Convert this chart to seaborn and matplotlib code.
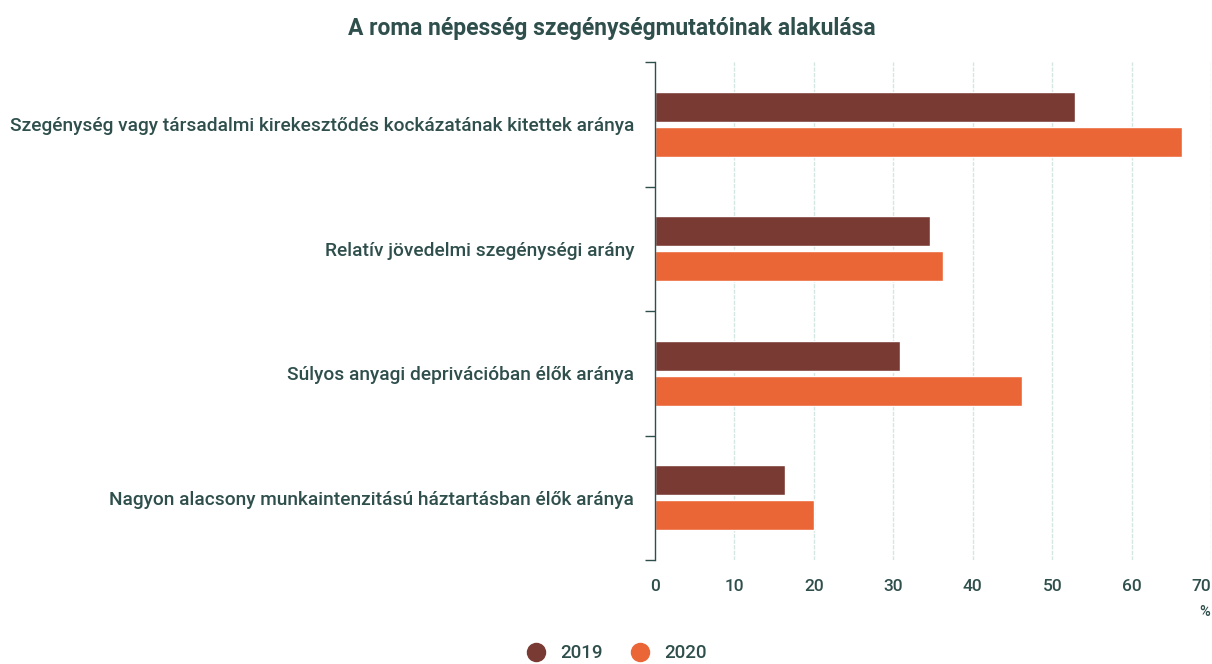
import seaborn as sns
import pandas as pd
import matplotlib.pyplot as plt
from matplotlib.lines import Line2D

categories = [
    'Szegénység vagy társadalmi kirekesztődés kockázatának kitettek aránya',
    'Relatív jövedelmi szegénységi arány',
    'Súlyos anyagi deprivációban élők aránya',
    'Nagyon alacsony munkaintenzitású háztartásban élők aránya',
]
years = ['2019', '2020']
values_2019 = [52.8, 34.6, 30.8, 16.4]
values_2020 = [66.3, 36.3, 46.2, 20.0]

df = pd.DataFrame({
    'kategoria': categories * 2,
    'ev': [years[0]] * 4 + [years[1]] * 4,
    'ertek': values_2019 + values_2020,
})

text_color = '#2f4f4c'
colors = {'2019': '#7a3a34', '2020': '#ea6636'}

sns.set_style('white')
plt.rcParams['font.family'] = ['Roboto', 'DejaVu Sans']
plt.rcParams['font.weight'] = 'medium'

fig = plt.figure(figsize=(12.12, 6.64), dpi=100)
ax = fig.add_axes([0.5404, 0.1566, 0.459, 0.75])

sns.barplot(data=df, y='kategoria', x='ertek', hue='ev', palette=colors,
            orient='h', width=0.56, gap=0.14, ax=ax, legend=False, saturation=1)

ax.set_xlim(0, 70)
ax.set_ylim(3.5, -0.5)
ax.set_xticks(range(0, 71, 10))
ax.set_xlabel('')
ax.set_ylabel('')

# vertical gridlines
for v in range(10, 71, 10):
    ax.axvline(v, color='#d3e6e1', lw=1, ls=(0, (3, 1)), zorder=0)

# category boundary ticks
ax.set_yticks([-0.5, 0.5, 1.5, 2.5, 3.5], minor=True)
ax.tick_params(axis='y', which='minor', left=True, length=7, color=text_color, width=1)
ax.tick_params(axis='y', which='major', left=False, length=0, pad=15, labelsize=13.8, labelcolor=text_color)
ax.tick_params(axis='x', length=0, pad=14, labelsize=12.5, labelcolor=text_color)
# last label sits at the figure edge
ax.get_xticklabels()[-1].set_horizontalalignment('right')

for s in ['top', 'right', 'bottom']:
    ax.spines[s].set_visible(False)
ax.spines['left'].set_color(text_color)
ax.spines['left'].set_linewidth(1)

fig.text(0.998, 0.078, '%', ha='right', va='center', fontsize=10.5, color=text_color)

fig.suptitle('A roma népesség szegénységmutatóinak alakulása', x=0.505, y=0.975,
             fontsize=16.5, fontweight='bold', color=text_color)

handles = [Line2D([], [], marker='o', ls='', markersize=13, color=colors[y]) for y in years]
fig.legend(handles, years, loc='center', bbox_to_anchor=(0.505, 0.016), ncol=2, frameon=False,
           fontsize=13.5, labelcolor=text_color, handletextpad=0.3, columnspacing=1.0)

fig.savefig('out.png', dpi=100)
